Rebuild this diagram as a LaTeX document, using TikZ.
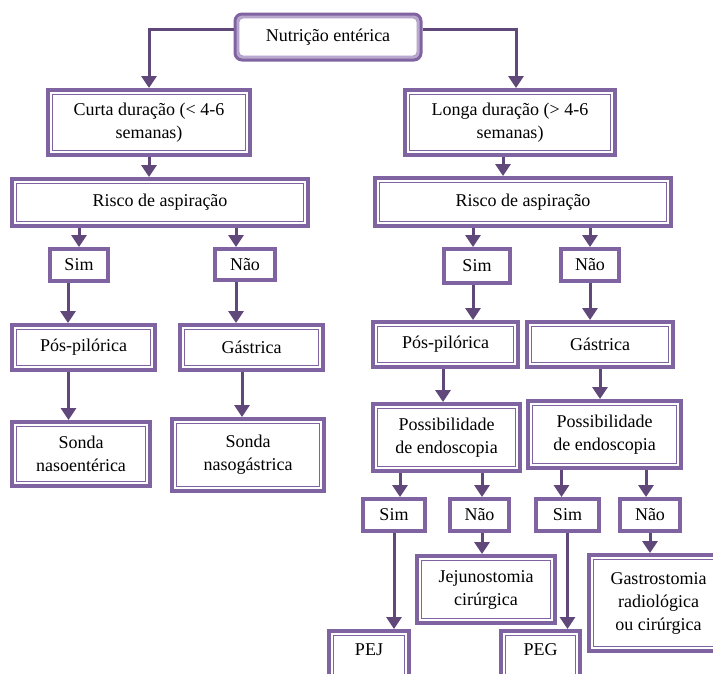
\documentclass[tikz,border=0pt]{standalone}
\usepackage{fontspec}
\setmainfont{Liberation Serif}
\newfontfamily\boxfont{Liberation Serif}
\usetikzlibrary{arrows.meta}

\definecolor{boxc}{RGB}{128,100,162}
\definecolor{boxl}{RGB}{184,168,206}
\definecolor{arrc}{RGB}{96,73,122}

\tikzset{
	wh/.style 2 args={minimum width=#1pt, minimum height=#2pt},
	txt/.style={align=center, inner sep=0pt, font=\boxfont\fontsize{18}{23}\selectfont},
	box/.style={txt, draw=boxc, line width=4pt, fill=white,
		path picture={\draw[boxc, line width=1pt]
			([shift={(4.5pt,-4.5pt)}]path picture bounding box.north west) rectangle
			([shift={(-4.5pt,4.5pt)}]path picture bounding box.south east);}},
	smallbox/.style={txt, draw=boxc, line width=4pt, fill=white},
	topbox/.style={txt, draw=boxc, line width=3pt, fill=boxl, rounded corners=7pt,
		path picture={\draw[boxl!80!boxc, fill=white, line width=0.8pt, rounded corners=4pt]
			([shift={(4pt,-4pt)}]path picture bounding box.north west) rectangle
			([shift={(-4pt,4pt)}]path picture bounding box.south east);}},
	arr/.style={draw=arrc, line width=3pt, -{Triangle[width=15pt,length=12pt]}}
}

\begin{document}
\begin{tikzpicture}[x=1pt, y=-1pt]

	\path[use as bounding box, clip] (0,0) rectangle (713,673);

	% Boxes

	\node[topbox, wh={186}{46}] (top) at (328,37) {Nutrição entérica};

	\node[box, wh={202}{65}] (curta) at (149,122.5) {Curta duração (< 4-6\\semanas)};
	\node[box, wh={210}{65}] (longa) at (510,122.5) {Longa duração (> 4-6\\semanas)};

	\node[box, wh={296}{47}] (riscoL) at (160,202.5) {Risco de aspiração};
	\node[box, wh={296}{48}] (riscoR) at (523,202) {Risco de aspiração};

	\node[smallbox, wh={58}{32}] (simL) at (79,265) {Sim};
	\node[smallbox, wh={60}{31}] (naoL) at (245,264.5) {Não};
	\node[smallbox, wh={66}{34}] (simR) at (477,266) {Sim};
	\node[smallbox, wh={58}{32}] (naoR) at (590,265) {Não};

	\node[box, wh={143}{45}] (posL) at (83.5,347.5) {Pós-pilórica};
	\node[box, wh={143}{45}] (gasL) at (251.5,347.5) {Gástrica};
	\node[box, wh={145}{45}] (posR) at (445.5,344.5) {Pós-pilórica};
	\node[box, wh={146}{45}] (gasR) at (600,344.5) {Gástrica};

	\node[box, wh={138}{64}] (sondaL) at (81,454) {Sonda\\nasoentérica};
	\node[box, wh={152}{72}] (sondaR) at (248,455) {Sonda\\nasogástrica};
	\node[box, wh={147}{67}] (possL) at (446.5,437.5) {Possibilidade\\de endoscopia};
	\node[box, wh={153}{67}] (possR) at (604.5,434.5) {Possibilidade\\de endoscopia};

	\node[smallbox, wh={62}{32}] (sim1) at (394,515) {Sim};
	\node[smallbox, wh={59}{32}] (nao1) at (479.5,515) {Não};
	\node[smallbox, wh={63}{32}] (sim2) at (567.5,515) {Sim};
	\node[smallbox, wh={60}{32}] (nao2) at (650,515) {Não};

	\node[box, wh={138}{67}] (jej) at (486,589.5) {Jejunostomia\\cirúrgica};
	\node[box, wh={139}{96}] (gastro) at (658.5,603) {Gastrostomia\\radiológica\\ou cirúrgica};
	\node[box, wh={80}{62}, text depth=24pt] (pej) at (369,662) {PEJ};
	\node[box, wh={79}{62}, text depth=24pt] (peg) at (540.5,662) {PEG};

	% Arrows

	\draw[arr] ([yshift=8pt]top.west) -| (curta.north);
	\draw[arr] ([yshift=8pt]top.east) -| ([xshift=6pt]longa.north);

	\draw[arr] (curta.south) -- (curta.south |- riscoL.north);
	\draw[arr] ([xshift=-7pt]longa.south) -- ([xshift=-7pt]longa.south |- riscoR.north);

	\draw[arr] (simL.north |- riscoL.south) -- (simL.north);
	\draw[arr] ([xshift=-9pt]naoL.north |- riscoL.south) -- ([xshift=-9pt]naoL.north);
	\draw[arr] ([xshift=-4pt]simR.north |- riscoR.south) -- ([xshift=-4pt]simR.north);
	\draw[arr] (naoR.north |- riscoR.south) -- (naoR.north);

	\draw[arr] ([xshift=-11pt]simL.south) -- ([xshift=-11pt]simL.south |- posL.north);
	\draw[arr] ([xshift=-9pt]naoL.south) -- ([xshift=-9pt]naoL.south |- gasL.north);
	\draw[arr] ([xshift=-4pt]simR.south) -- ([xshift=-4pt]simR.south |- posR.north);
	\draw[arr] (naoR.south) -- (naoR.south |- gasR.north);

	\draw[arr] ([xshift=-15pt]posL.south) -- ([xshift=-15pt]posL.south |- sondaL.north);
	\draw[arr] ([xshift=-9.5pt]gasL.south) -- ([xshift=-9.5pt]gasL.south |- sondaR.north);
	\draw[arr] ([xshift=-2.5pt]posR.south) -- ([xshift=-2.5pt]posR.south |- possL.north);
	\draw[arr] (gasR.south) -- (gasR.south |- possR.north);

	\draw[arr] ([xshift=6pt]sim1.north |- possL.south) -- ([xshift=6pt]sim1.north);
	\draw[arr] ([xshift=2.5pt]nao1.north |- possL.south) -- ([xshift=2.5pt]nao1.north);
	\draw[arr] ([xshift=-6pt]sim2.north |- possR.south) -- ([xshift=-6pt]sim2.north);
	\draw[arr] ([xshift=-4pt]nao2.north |- possR.south) -- ([xshift=-4pt]nao2.north);

	\draw[arr] (sim1.south) -- (sim1.south |- pej.north);
	\draw[arr] ([xshift=2.5pt]nao1.south) -- ([xshift=2.5pt]nao1.south |- jej.north);
	\draw[arr] (sim2.south) -- (sim2.south |- peg.north);
	\draw[arr] (nao2.south) -- (nao2.south |- gastro.north);

\end{tikzpicture}
\end{document}
